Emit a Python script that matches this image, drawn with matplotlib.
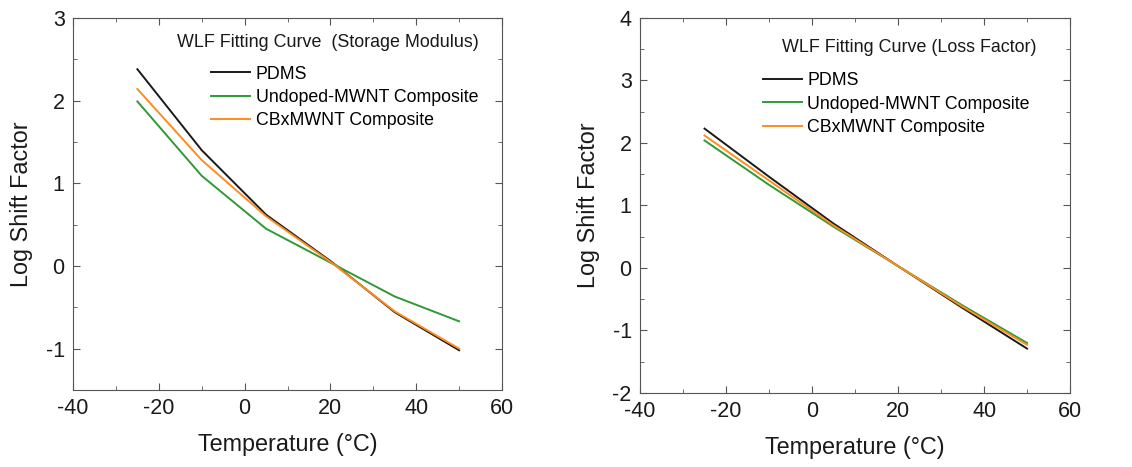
import matplotlib
matplotlib.use("Agg")
import matplotlib.pyplot as plt
from matplotlib.ticker import MultipleLocator

plt.rcParams["font.family"] = ["Liberation Sans", "DejaVu Sans"]
plt.rcParams["axes.unicode_minus"] = False

# temperatures (°C)
temp = [-25, -10, 5, 20, 35, 50]

# storage modulus shift factors
sm_pdms = [2.38, 1.40, 0.62, 0.06, -0.56, -1.02]
sm_undoped = [1.99, 1.09, 0.45, 0.04, -0.37, -0.67]
sm_cbx = [2.14, 1.28, 0.60, 0.05, -0.55, -1.00]

# loss factor shift factors
lf_pdms = [2.23, 1.46, 0.71, 0.03, -0.64, -1.29]
lf_undoped = [2.04, 1.33, 0.66, 0.03, -0.60, -1.20]
lf_cbx = [2.12, 1.40, 0.68, 0.03, -0.62, -1.23]

labels = ["PDMS", "Undoped-MWNT Composite", "CBxMWNT Composite"]
colors = ["#1a1a1a", "#2f9a35", "#ff8c1e"]

fig = plt.figure(figsize=(11.32, 4.67), dpi=100)
ax1 = fig.add_axes([0.0645, 0.165, 0.379, 0.7966])
ax2 = fig.add_axes([0.5654, 0.1585, 0.3799, 0.803])


def style(ax, ylim):
    ax.set_xlim(-40, 60)
    ax.set_ylim(*ylim)
    ax.xaxis.set_major_locator(MultipleLocator(20))
    ax.xaxis.set_minor_locator(MultipleLocator(10))
    ax.yaxis.set_major_locator(MultipleLocator(1))
    ax.yaxis.set_minor_locator(MultipleLocator(0.5))
    ax.tick_params(which="both", direction="in", top=True, right=True,
                   colors="#555555", labelcolor="#1a1a1a")
    ax.tick_params(which="major", length=5, labelsize=15.5, pad=6)
    ax.tick_params(which="minor", length=3)
    for s in ax.spines.values():
        s.set_color("#555555")
    ax.set_xlabel("Temperature (°C)", fontsize=16.8, color="#1a1a1a", labelpad=10)
    ax.set_ylabel("Log Shift Factor", fontsize=16.8, color="#1a1a1a", labelpad=9)


for ys, c, lab in zip([sm_pdms, sm_undoped, sm_cbx], colors, labels):
    ax1.plot(temp, ys, color=c, lw=1.4, label=lab)
for ys, c, lab in zip([lf_pdms, lf_undoped, lf_cbx], colors, labels):
    ax2.plot(temp, ys, color=c, lw=1.4, label=lab)

style(ax1, (-1.5, 3))
style(ax2, (-2, 4))

ax1.text(0.242, 0.935, "WLF Fitting Curve  (Storage Modulus)", transform=ax1.transAxes,
         fontsize=12.9, va="center", color="#1a1a1a")
ax2.text(0.330, 0.92, "WLF Fitting Curve (Loss Factor)", transform=ax2.transAxes,
         fontsize=12.9, va="center", color="#1a1a1a")

for ax, anchor in [(ax1, (0.322, 0.872)), (ax2, (0.286, 0.855))]:
    ax.legend(loc="upper left", bbox_to_anchor=anchor, frameon=False, fontsize=12.8,
              borderpad=0, borderaxespad=0, handlelength=2.2, handletextpad=0.3,
              labelspacing=0.35)

fig.savefig("out.png", dpi=100)
